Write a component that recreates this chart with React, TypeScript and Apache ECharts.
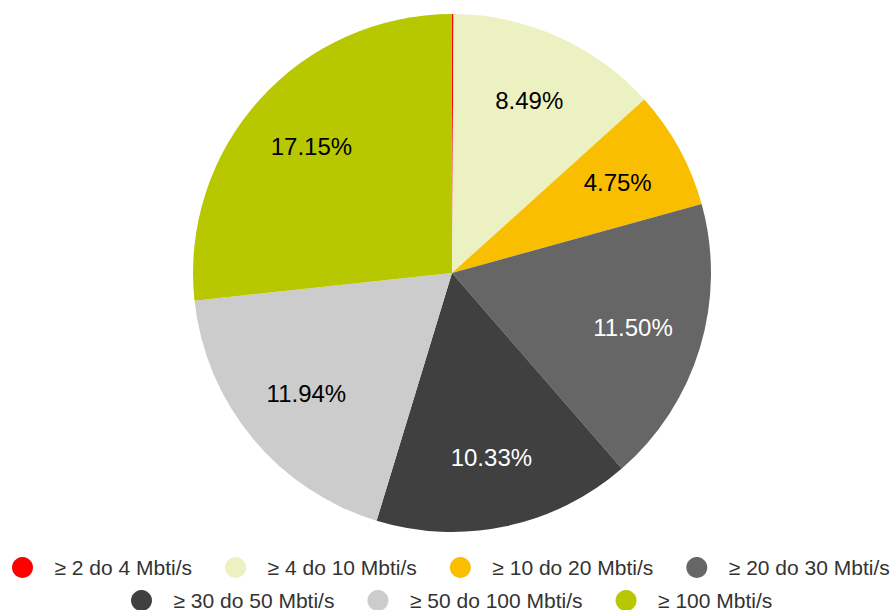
import React, { useEffect, useRef } from "react";
import * as echarts from "echarts";

const categories = [
  "≥ 2 do 4 Mbti/s",
  "≥ 4 do 10 Mbti/s",
  "≥ 10 do 20 Mbti/s",
  "≥ 20 do 30 Mbti/s",
  "≥ 30 do 50 Mbti/s",
  "≥ 50 do 100 Mbti/s",
  "≥ 100 Mbti/s",
];
const values = [0.06, 8.49, 4.75, 11.5, 10.33, 11.94, 17.15];
const colors = ["#FF0000", "#ECF1C1", "#F9BE00", "#666666", "#404040", "#CCCCCC", "#B7C800"];
const labelColors = ["#000000", "#000000", "#000000", "#FFFFFF", "#FFFFFF", "#000000", "#000000"];
const labelVisible = [false, true, true, true, true, true, true];

export default function App() {
  const ref = useRef<HTMLDivElement>(null);
  useEffect(() => {
    if (!ref.current) return;
    const chart = echarts.init(ref.current, null, { renderer: "svg" });
    const baseData = categories.map((name, i) => ({
      name,
      value: values[i],
      itemStyle: { color: colors[i] },
    }));
    const labelData = categories.map((name, i) => ({
      name,
      value: values[i],
      itemStyle: { color: "rgba(0,0,0,0)" },
      label: { show: labelVisible[i], color: labelColors[i] },
    }));
    const legendCommon = {
      orient: "horizontal" as const,
      icon: "circle",
      itemWidth: 22,
      itemHeight: 21,
      itemGap: 33,
      padding: 0,
      selectedMode: false,
      textStyle: {
        fontFamily: "Liberation Sans, Arial, sans-serif",
        fontSize: 21,
        lineHeight: 21,
        color: "#333333",
        padding: [0, 0, 0, 16],
      },
    };
    chart.setOption({
      animation: false,
      backgroundColor: "#ffffff",
      legend: [
        { ...legendCommon, left: 12, top: 557, data: categories.slice(0, 4) },
        { ...legendCommon, left: 131, top: 590, data: categories.slice(4) },
      ],
      series: [
        {
          type: "pie",
          center: [452, 273],
          radius: [0, 259],
          startAngle: 90,
          clockwise: true,
          label: { show: false },
          labelLine: { show: false },
          itemStyle: { borderWidth: 0 },
          emphasis: { disabled: true },
          data: baseData,
        },
        {
          type: "pie",
          center: [452, 273],
          radius: [117, 255],
          startAngle: 90,
          clockwise: true,
          silent: true,
          label: {
            show: true,
            position: "inside",
            fontFamily: "Liberation Sans, Arial, sans-serif",
            fontSize: 24,
            formatter: (p: any) => Number(p.value).toFixed(2) + "%",
          },
          labelLine: { show: false },
          emphasis: { disabled: true },
          data: labelData,
        },
      ],
    });
    return () => chart.dispose();
  }, []);
  return (
    <div
      ref={ref}
      style={{ position: "fixed", left: 0, top: 0, width: 893, height: 610 }}
    />
  );
}
